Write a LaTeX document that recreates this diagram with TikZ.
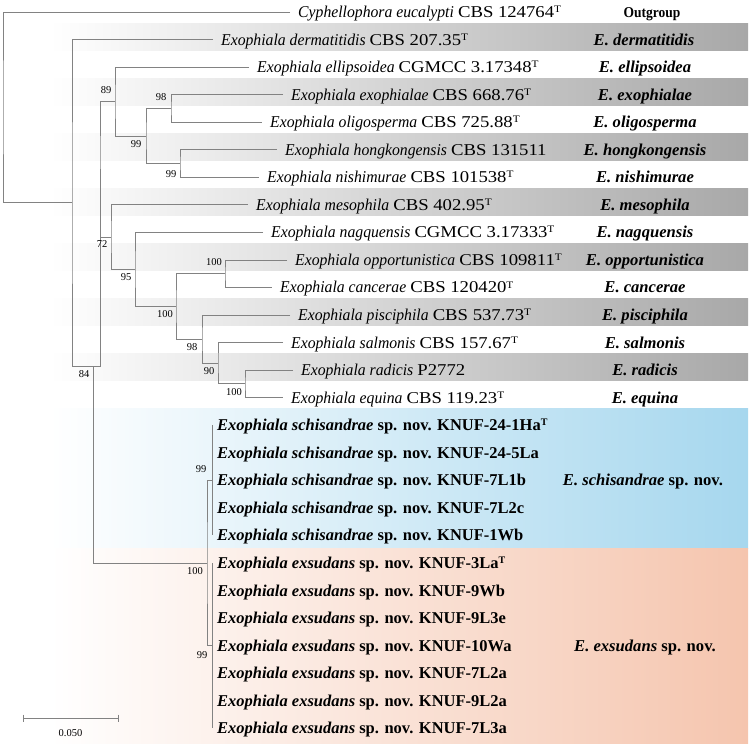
\documentclass[tikz,border=0pt]{standalone}
\usepackage{fontspec}
\usepackage{graphicx}
\setmainfont{Liberation Serif}
\definecolor{treegray}{RGB}{130,130,130}
\definecolor{bandgray}{RGB}{168,168,168}
\definecolor{schblue}{RGB}{166,215,238}
\definecolor{exsal}{RGB}{245,197,174}
\newcommand{\spname}[1]{\scalebox{0.952}[1]{\itshape #1}}
\newcommand{\strain}[1]{\scalebox{1.133}[1]{#1}}
\newcommand{\typ}{\raisebox{0.3em}{\fontsize{10}{10}\selectfont T}}
\begin{document}
\begin{tikzpicture}[x=1pt,y=-1pt,
  br/.style={draw=treegray, line width=0.9pt},
  leaf/.style={anchor=west, inner xsep=8pt, inner ysep=0pt, text height=10.9pt, text depth=0pt, font=\fontsize{16.5}{18}\selectfont},
  nleaf/.style={anchor=west, inner xsep=5pt, inner ysep=0pt, text height=10.9pt, text depth=0pt, font=\fontsize{16.5}{18}\selectfont\bfseries},
  clade/.style={anchor=center, inner sep=0pt, text height=10.9pt, text depth=0pt, font=\fontsize{16.6}{18}\selectfont\bfseries\itshape},
  bs/.style={inner sep=0pt, font=\fontsize{10.5}{11}\selectfont},
  band/.style={left color=white, right color=bandgray},
]
\useasboundingbox (0,0) rectangle (750,747);
% background bands
\foreach \yy in {39.55,94.65,149.75,204.85,259.95,315.05,370.15}
  \shade[band] (50,\yy-16.5) rectangle (748,\yy+10.5);
\shade[left color=white, right color=schblue] (50,408) rectangle (748,548);
\shade[left color=white, right color=exsal] (50,548) rectangle (748,743);

% internal nodes
\coordinate (root) at (3,107.43);
\coordinate (nA) at (72,202.86);
\coordinate (nB) at (93,366.17);
\coordinate (nD) at (100,169.34);
\coordinate (n89) at (115,101.54);
\coordinate (n99b) at (146,135.98);
\coordinate (n98) at (171,108.43);
\coordinate (n99a) at (180,163.53);
\coordinate (n72) at (111,237.13);
\coordinate (n95) at (135,269.42);
\coordinate (n100a) at (176,306.44);
\coordinate (n100b) at (225,273.73);
\coordinate (n98b) at (202,339.16);
\coordinate (n90) at (218,363.26);
\coordinate (n100c) at (245,383.93);
\coordinate (n100d) at (207,563);
\coordinate (nS) at (212,480.35);
\coordinate (nE) at (212,645.65);

% leaves
\node[leaf] (l1) at (290,12) {\spname{Cyphellophora eucalypti} \strain{CBS 124764\typ}};
\node[leaf] (l2) at (213,39.55) {\spname{Exophiala dermatitidis} \strain{CBS 207.35\typ}};
\node[leaf] (l3) at (249,67.1) {\spname{Exophiala ellipsoidea} \strain{CGMCC 3.17348\typ}};
\node[leaf] (l4) at (283,94.65) {\spname{Exophiala exophialae} \strain{CBS 668.76\typ}};
\node[leaf] (l5) at (262,122.2) {\spname{Exophiala oligosperma} \strain{CBS 725.88\typ}};
\node[leaf] (l6) at (277,149.75) {\spname{Exophiala hongkongensis} \strain{CBS 131511}};
\node[leaf] (l7) at (259,177.3) {\spname{Exophiala nishimurae} \strain{CBS 101538\typ}};
\node[leaf] (l8) at (248,204.85) {\spname{Exophiala mesophila} \strain{CBS 402.95\typ}};
\node[leaf] (l9) at (263,232.4) {\spname{Exophiala nagquensis} \strain{CGMCC 3.17333\typ}};
\node[leaf] (l10) at (287,259.95) {\spname{Exophiala opportunistica} \strain{CBS 109811\typ}};
\node[leaf] (l11) at (272,287.5) {\spname{Exophiala cancerae} \strain{CBS 120420\typ}};
\node[leaf] (l12) at (290,315.05) {\spname{Exophiala pisciphila} \strain{CBS 537.73\typ}};
\node[leaf] (l13) at (283,342.6) {\spname{Exophiala salmonis} \strain{CBS 157.67\typ}};
\node[leaf] (l14) at (293,370.15) {\spname{Exophiala radicis} \strain{P2772}};
\node[leaf] (l15) at (283,397.7) {\spname{Exophiala equina} \strain{CBS 119.23\typ}};
\node[nleaf] (l16) at (212,425.25) {\textit{Exophiala schisandrae} sp. nov. KNUF-24-1Ha\typ};
\node[nleaf] (l17) at (212,452.8) {\textit{Exophiala schisandrae} sp. nov. KNUF-24-5La};
\node[nleaf] (l18) at (212,480.35) {\textit{Exophiala schisandrae} sp. nov. KNUF-7L1b};
\node[nleaf] (l19) at (212,507.9) {\textit{Exophiala schisandrae} sp. nov. KNUF-7L2c};
\node[nleaf] (l20) at (212,535.45) {\textit{Exophiala schisandrae} sp. nov. KNUF-1Wb};
\node[nleaf] (l21) at (212,563) {\textit{Exophiala exsudans} sp. nov. KNUF-3La\typ};
\node[nleaf] (l22) at (212,590.55) {\textit{Exophiala exsudans} sp. nov. KNUF-9Wb};
\node[nleaf] (l23) at (212,618.1) {\textit{Exophiala exsudans} sp. nov. KNUF-9L3e};
\node[nleaf] (l24) at (212,645.65) {\textit{Exophiala exsudans} sp. nov. KNUF-10Wa};
\node[nleaf] (l25) at (212,673.2) {\textit{Exophiala exsudans} sp. nov. KNUF-7L2a};
\node[nleaf] (l26) at (212,700.75) {\textit{Exophiala exsudans} sp. nov. KNUF-9L2a};
\node[nleaf] (l27) at (212,728.3) {\textit{Exophiala exsudans} sp. nov. KNUF-7L3a};

% branches
\draw[br] (l1.west) -| (root) |- (nA);
\draw[br] (l2.west) -| (nA) |- (nB);
\draw[br] (nD) |- (nB) |- (n100d);
\draw[br] (n89) -| (nD) |- (n72);
\draw[br] (l3.west) -| (n89) |- (n99b);
\draw[br] (n98) -| (n99b) |- (n99a);
\draw[br] (l4.west) -| (n98) |- (l5.west);
\draw[br] (l6.west) -| (n99a) |- (l7.west);
\draw[br] (l8.west) -| (n72) |- (n95);
\draw[br] (l9.west) -| (n95) |- (n100a);
\draw[br] (n100b) -| (n100a) |- (n98b);
\draw[br] (l10.west) -| (n100b) |- (l11.west);
\draw[br] (l12.west) -| (n98b) |- (n90);
\draw[br] (l13.west) -| (n90) |- (n100c);
\draw[br] (l14.west) -| (n100c) |- (l15.west);
\draw[br] (nS) -| (n100d) |- (nE);
\draw[br] (l16.west) -- (l20.west);
\draw[br] (nS) -- (l18.west);
\draw[br] (l21.west) -- (l27.west);
\draw[br] (nE) -- (l24.west);

% bootstrap values
\node[bs] (b89) at (106,90) {89};
\node[bs] (b98) at (161,97.5) {98};
\node[bs] (b99b) at (136,144) {99};
\node[bs] (b99a) at (171,174) {99};
\node[bs] (b72) at (102,244) {72};
\node[bs] (b95) at (126,277.5) {95};
\node[bs] (b100b) at (214,262) {100};
\node[bs] (b100a) at (165,314) {100};
\node[bs] (b98b) at (192,347) {98};
\node[bs] (b90) at (209,371.5) {90};
\node[bs] (b100c) at (234,392) {100};
\node[bs] (b84) at (84,374) {84};
\node[bs] (b99s) at (201,469) {99};
\node[bs] (b100d) at (195,571) {100};
\node[bs] (b99e) at (202,655) {99};

% clade names
\node[clade, font=\fontsize{15}{16}\selectfont\bfseries] (r1) at (652,12) {\scalebox{0.9}[1]{Outgroup}};
\node[clade] (r2) at (644,39.55) {E. dermatitidis};
\node[clade] (r3) at (645,67.1) {E. ellipsoidea};
\node[clade] (r4) at (645,94.65) {E. exophialae};
\node[clade] (r5) at (645,122.2) {E. oligosperma};
\node[clade] (r6) at (645,149.75) {E. hongkongensis};
\node[clade] (r7) at (645,177.3) {E. nishimurae};
\node[clade] (r8) at (645,204.85) {E. mesophila};
\node[clade] (r9) at (645,232.4) {E. nagquensis};
\node[clade] (r10) at (645,259.95) {E. opportunistica};
\node[clade] (r11) at (645,287.5) {E. cancerae};
\node[clade] (r12) at (645,315.05) {E. pisciphila};
\node[clade] (r13) at (645,342.6) {E. salmonis};
\node[clade] (r14) at (645,370.15) {E. radicis};
\node[clade] (r15) at (645,397.7) {E. equina};
\node[clade] (rS) at (643,480.35) {E. schisandrae \upshape sp. nov.};
\node[clade] (rE) at (645,645.65) {E. exsudans \upshape sp. nov.};

% scale bar
\coordinate (sb1) at (23,718);
\coordinate (sb2) at (118,718);
\draw[br] (sb1) -- (sb2);
\draw[br] ([yshift=3.5pt]sb1) -- ([yshift=-3.5pt]sb1);
\draw[br] ([yshift=3.5pt]sb2) -- ([yshift=-3.5pt]sb2);
\node[bs] (sbl) at (70.5,733) {0.050};
\end{tikzpicture}
\end{document}
